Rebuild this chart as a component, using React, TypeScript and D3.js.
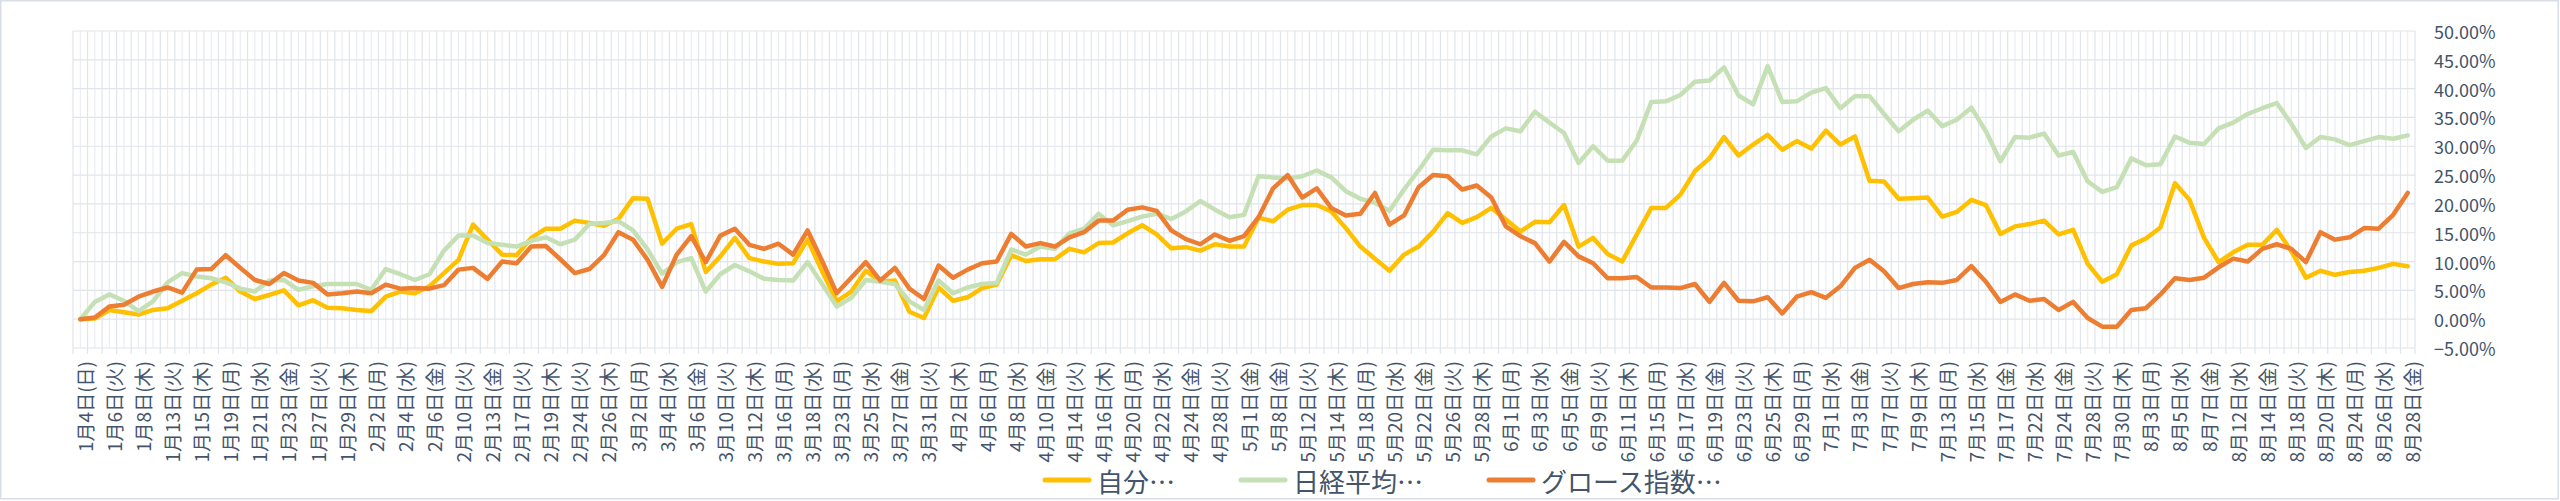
import { useEffect, useRef } from "react";
import * as d3 from "d3";

// trading days (category axis)
const categories = [
  "1月4日(日)", "1月5日(月)", "1月6日(火)", "1月7日(水)", "1月8日(木)", "1月9日(金)", "1月13日(火)", "1月14日(水)", "1月15日(木)", "1月16日(金)",
  "1月19日(月)", "1月20日(火)", "1月21日(水)", "1月22日(木)", "1月23日(金)", "1月26日(月)", "1月27日(火)", "1月28日(水)", "1月29日(木)", "1月30日(金)",
  "2月2日(月)", "2月3日(火)", "2月4日(水)", "2月5日(木)", "2月6日(金)", "2月9日(月)", "2月10日(火)", "2月12日(木)", "2月13日(金)", "2月16日(月)",
  "2月17日(火)", "2月18日(水)", "2月19日(木)", "2月20日(金)", "2月24日(火)", "2月25日(水)", "2月26日(木)", "2月27日(金)", "3月2日(月)", "3月3日(火)",
  "3月4日(水)", "3月5日(木)", "3月6日(金)", "3月9日(月)", "3月10日(火)", "3月11日(水)", "3月12日(木)", "3月13日(金)", "3月16日(月)", "3月17日(火)",
  "3月18日(水)", "3月19日(木)", "3月23日(月)", "3月24日(火)", "3月25日(水)", "3月26日(木)", "3月27日(金)", "3月30日(月)", "3月31日(火)", "4月1日(水)",
  "4月2日(木)", "4月3日(金)", "4月6日(月)", "4月7日(火)", "4月8日(水)", "4月9日(木)", "4月10日(金)", "4月13日(月)", "4月14日(火)", "4月15日(水)",
  "4月16日(木)", "4月17日(金)", "4月20日(月)", "4月21日(火)", "4月22日(水)", "4月23日(木)", "4月24日(金)", "4月27日(月)", "4月28日(火)", "4月30日(木)",
  "5月1日(金)", "5月7日(木)", "5月8日(金)", "5月11日(月)", "5月12日(火)", "5月13日(水)", "5月14日(木)", "5月15日(金)", "5月18日(月)", "5月19日(火)",
  "5月20日(水)", "5月21日(木)", "5月22日(金)", "5月25日(月)", "5月26日(火)", "5月27日(水)", "5月28日(木)", "5月29日(金)", "6月1日(月)", "6月2日(火)",
  "6月3日(水)", "6月4日(木)", "6月5日(金)", "6月8日(月)", "6月9日(火)", "6月10日(水)", "6月11日(木)", "6月12日(金)", "6月15日(月)", "6月16日(火)",
  "6月17日(水)", "6月18日(木)", "6月19日(金)", "6月22日(月)", "6月23日(火)", "6月24日(水)", "6月25日(木)", "6月26日(金)", "6月29日(月)", "6月30日(火)",
  "7月1日(水)", "7月2日(木)", "7月3日(金)", "7月6日(月)", "7月7日(火)", "7月8日(水)", "7月9日(木)", "7月10日(金)", "7月13日(月)", "7月14日(火)",
  "7月15日(水)", "7月16日(木)", "7月17日(金)", "7月21日(火)", "7月22日(水)", "7月23日(木)", "7月24日(金)", "7月27日(月)", "7月28日(火)", "7月29日(水)",
  "7月30日(木)", "7月31日(金)", "8月3日(月)", "8月4日(火)", "8月5日(水)", "8月6日(木)", "8月7日(金)", "8月10日(月)", "8月12日(水)", "8月13日(木)",
  "8月14日(金)", "8月17日(月)", "8月18日(火)", "8月19日(水)", "8月20日(木)", "8月21日(金)", "8月24日(月)", "8月25日(火)", "8月26日(水)", "8月27日(木)",
  "8月28日(金)",
];

// cumulative returns, %
const jibun = [
  0, 0.1, 1.6, 1.2, 0.8, 1.6, 1.9, 3.2, 4.5, 6.0,
  7.2, 4.8, 3.5, 4.2, 5.0, 2.4, 3.3, 2.0, 1.9, 1.6,
  1.4, 3.9, 4.8, 4.5, 5.7, 8.0, 10.3, 16.4, 13.8, 11.2,
  11.1, 14.1, 15.7, 15.7, 17.1, 16.7, 16.2, 17.4, 21.0, 20.9,
  13.1, 15.7, 16.5, 8.2, 10.9, 14.1, 10.6, 10.0, 9.6, 9.7,
  13.8, 8.3, 3.1, 4.8, 8.4, 6.5, 6.7, 1.3, 0.2, 5.5,
  3.2, 3.8, 5.4, 6.0, 11.1, 10.1, 10.4, 10.4, 12.2, 11.6,
  13.2, 13.3, 14.9, 16.3, 14.7, 12.3, 12.5, 11.9, 13.0, 12.6,
  12.6, 17.6, 17.0, 19.0, 19.8, 19.8, 18.7, 15.8, 12.6, 10.5,
  8.4, 11.2, 12.6, 15.2, 18.4, 16.7, 17.7, 19.3, 17.3, 15.2,
  16.9, 16.8, 19.8, 12.6, 14.1, 11.3, 10.0, 14.7, 19.3, 19.3,
  21.6, 25.7, 27.9, 31.6, 28.4, 30.3, 32.0, 29.4, 30.9, 29.6,
  32.7, 30.3, 31.7, 24.0, 23.9, 20.9, 21.0, 21.1, 17.8, 18.6,
  20.7, 19.8, 14.8, 16.1, 16.5, 17.1, 14.7, 15.5, 9.6, 6.5,
  7.8, 12.8, 14.0, 15.9, 23.6, 20.7, 14.1, 9.9, 11.6, 12.9,
  12.9, 15.5, 11.8, 7.2, 8.4, 7.7, 8.2, 8.4, 8.9, 9.6,
  9.2,
];

const nikkei = [
  0, 3.0, 4.3, 3.2, 1.4, 3.1, 6.4, 8.0, 7.4, 7.1,
  6.4, 5.3, 4.8, 6.7, 6.8, 5.1, 5.7, 6.1, 6.1, 6.1,
  5.1, 8.7, 7.8, 6.8, 7.8, 11.9, 14.5, 14.5, 13.2, 12.9,
  12.6, 13.6, 14.2, 13.0, 13.8, 16.5, 16.7, 17.0, 15.4, 12.1,
  7.9, 9.9, 10.6, 4.8, 7.8, 9.4, 8.3, 7.0, 6.8, 6.7,
  9.9, 6.1, 2.2, 3.7, 6.8, 6.5, 6.1, 3.1, 1.6, 6.7,
  4.5, 5.5, 6.1, 6.3, 12.1, 11.2, 12.6, 12.2, 14.9, 15.7,
  18.3, 16.3, 17.0, 17.8, 18.3, 17.4, 18.7, 20.5, 19.0, 17.7,
  18.1, 24.8, 24.6, 24.4, 24.8, 25.8, 24.6, 22.2, 20.9, 20.2,
  18.8, 22.5, 25.8, 29.4, 29.3, 29.3, 28.6, 31.7, 33.1, 32.6,
  36.0, 34.1, 32.3, 27.1, 30.0, 27.5, 27.5, 31.0, 37.7, 37.8,
  38.9, 41.2, 41.4, 43.7, 38.8, 37.3, 43.9, 37.7, 37.8, 39.3,
  40.1, 36.6, 38.7, 38.7, 35.6, 32.6, 34.6, 36.2, 33.5, 34.6,
  36.7, 32.6, 27.4, 31.6, 31.5, 32.2, 28.4, 29.0, 23.9, 22.1,
  22.9, 27.9, 26.7, 26.9, 31.7, 30.6, 30.4, 33.1, 34.1, 35.6,
  36.6, 37.5, 33.9, 29.7, 31.6, 31.2, 30.2, 30.9, 31.6, 31.3,
  31.9,
];

const growth = [
  0, 0.3, 2.2, 2.5, 3.9, 4.8, 5.5, 4.6, 8.6, 8.7,
  11.1, 8.9, 6.8, 6.1, 8.0, 6.7, 6.3, 4.3, 4.5, 4.8,
  4.5, 6.0, 5.3, 5.4, 5.3, 5.9, 8.6, 8.9, 7.0, 10.0,
  9.7, 12.6, 12.7, 10.4, 8.0, 8.7, 11.1, 15.1, 13.8, 10.3,
  5.6, 11.2, 14.4, 9.9, 14.5, 15.7, 12.9, 12.2, 13.1, 11.2,
  15.4, 10.1, 4.5, 7.2, 9.9, 6.7, 8.9, 5.3, 3.5, 9.3,
  7.2, 8.6, 9.7, 10.0, 14.8, 12.6, 13.2, 12.6, 14.2, 15.1,
  17.1, 17.1, 19.0, 19.4, 18.8, 15.4, 13.9, 13.0, 14.7, 13.6,
  14.4, 17.7, 22.7, 25.0, 21.1, 22.7, 19.3, 18.0, 18.3, 21.9,
  16.4, 18.0, 22.9, 25.0, 24.8, 22.5, 23.2, 21.1, 16.1, 14.4,
  13.2, 10.0, 13.4, 10.9, 9.7, 7.1, 7.1, 7.3, 5.5, 5.5,
  5.4, 6.1, 3.0, 6.3, 3.2, 3.1, 3.8, 1.0, 3.9, 4.7,
  3.7, 5.7, 8.9, 10.3, 8.3, 5.4, 6.1, 6.4, 6.3, 6.8,
  9.2, 6.5, 3.0, 4.3, 3.2, 3.5, 1.6, 3.0, 0.2, -1.3,
  -1.3, 1.6, 1.9, 4.3, 7.1, 6.8, 7.2, 9.0, 10.5, 10.0,
  12.2, 13.0, 12.2, 9.9, 15.1, 13.8, 14.2, 15.8, 15.7, 18.1,
  21.9,
];

const yTicks = [-5, 0, 5, 10, 15, 20, 25, 30, 35, 40, 45, 50];
const seriesNames = ["自分…", "日経平均…", "グロース指数…"];
const seriesColors = ["#FFC000", "#C5E0B4", "#ED7D31"];

const WIDTH = 2560;
const HEIGHT = 501;
const MARGIN = { top: 31, right: 145, bottom: 153, left: 73 };
const FONT = "'Noto Sans CJK JP', 'Noto Sans', sans-serif";
const TEXT = "#44546a";
const GRID = "#e0e4eb";

export default function App() {
  const svgRef = useRef<SVGSVGElement>(null);

  useEffect(() => {
    document.body.style.margin = "0";
    const svg = svgRef.current;
    if (!svg) return;
    d3.select(svg).selectAll("*").remove();

    const root = d3.select(svg);
    const left = MARGIN.left;
    const right = WIDTH - MARGIN.right;
    const top = MARGIN.top;
    const bottom = HEIGHT - MARGIN.bottom;

    // chart area border
    root
      .append("rect")
      .attr("x", 0.75)
      .attr("y", 0.75)
      .attr("width", WIDTH - 2.5)
      .attr("height", HEIGHT - 3)
      .attr("fill", "#fff")
      .attr("stroke", "#d9dde4")
      .attr("stroke-width", 1.5);

    const x = d3
      .scaleBand<number>()
      .domain(d3.range(categories.length))
      .range([left, right])
      .padding(0);
    const bw = x.bandwidth();
    const cx = (i: number) => (x(i) as number) + bw / 2;

    const y = d3.scaleLinear().domain([-5, 50]).range([bottom, top]);

    // vertical grid: category boundaries + centers
    const bounds = d3.range(categories.length + 1).map((i) => left + i * bw);
    root
      .append("g")
      .selectAll("line")
      .data(bounds)
      .join("line")
      .attr("x1", (d) => d)
      .attr("x2", (d) => d)
      .attr("y1", top)
      .attr("y2", bottom + 6)
      .attr("stroke", GRID)
      .attr("stroke-width", 1.2);

    root
      .append("g")
      .selectAll("line")
      .data(d3.range(categories.length))
      .join("line")
      .attr("x1", (i) => cx(i))
      .attr("x2", (i) => cx(i))
      .attr("y1", top)
      .attr("y2", bottom)
      .attr("stroke", "#e8ebf0")
      .attr("stroke-width", 1.1);

    // horizontal grid
    root
      .append("g")
      .selectAll("line")
      .data(yTicks)
      .join("line")
      .attr("x1", left)
      .attr("x2", right)
      .attr("y1", (d) => y(d))
      .attr("y2", (d) => y(d))
      .attr("stroke", GRID)
      .attr("stroke-width", 1.2);

    // right axis labels
    root
      .append("g")
      .selectAll("text")
      .data(yTicks)
      .join("text")
      .attr("x", right + 19)
      .attr("y", (d) => y(d))
      .attr("dominant-baseline", "central")
      .attr("fill", TEXT)
      .attr("font-family", FONT)
      .attr("font-size", "18px")
      .text((d) => d3.format(".2f")(d) + "%");

    // category labels, every 2nd
    root
      .append("g")
      .selectAll("text")
      .data(d3.range(0, categories.length, 2))
      .join("text")
      .attr("transform", (i) => `translate(${cx(i) + 4},${bottom + 13}) rotate(-90)`)
      .attr("text-anchor", "end")
      .attr("dominant-baseline", "central")
      .attr("fill", TEXT)
      .attr("font-family", FONT)
      .attr("font-size", "19px")
      .text((i) => categories[i]);

    // series
    const line = d3
      .line<number>()
      .x((_, i) => cx(i))
      .y((d) => y(d));

    [jibun, nikkei, growth].forEach((values, k) => {
      root
        .append("path")
        .datum(values)
        .attr("fill", "none")
        .attr("stroke", seriesColors[k])
        .attr("stroke-width", 4.5)
        .attr("stroke-linejoin", "round")
        .attr("stroke-linecap", "round")
        .attr("d", line);
    });

    // legend
    const legend = root.append("g").attr("transform", `translate(1043,480)`);
    let offset = 0;
    seriesNames.forEach((name, k) => {
      legend
        .append("line")
        .attr("x1", offset + 2)
        .attr("x2", offset + 46)
        .attr("y1", 0)
        .attr("y2", 0)
        .attr("stroke", seriesColors[k])
        .attr("stroke-width", 5)
        .attr("stroke-linecap", "round");
      const t = legend
        .append("text")
        .attr("x", offset + 54)
        .attr("y", 0)
        .attr("dominant-baseline", "central")
        .attr("fill", TEXT)
        .attr("font-family", FONT)
        .attr("font-size", "26px")
        .text(name);
      const w = (t.node() as SVGTextElement).getComputedTextLength();
      offset += 54 + w + 64;
    });
  }, []);

  return (
    <svg
      ref={svgRef}
      width={WIDTH}
      height={HEIGHT}
      style={{ display: "block" }}
    />
  );
}
